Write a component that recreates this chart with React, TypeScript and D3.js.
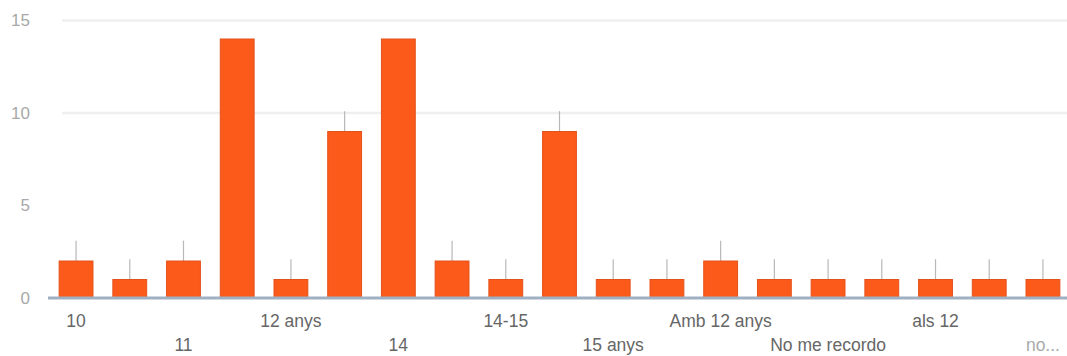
import React from "react";
import * as d3 from "d3";

const categories = [
  "10", "10 anys", "11", "12", "12 anys", "13", "14", "14 anys", "14-15", "15",
  "15 anys", "16", "Amb 12 anys", "Amb 13 anys", "No me recordo", "Sobre els 12",
  "als 12", "als 13", "no...",
];
const values = [2, 1, 2, 14, 1, 9, 14, 2, 1, 9, 1, 1, 2, 1, 1, 1, 1, 1, 1];
const errorUp = 1.1;
const yTicks = [0, 5, 10, 15];
const gridTicks = [10, 15];

const W = 1067;
const H = 356;

export default function App() {
  const x = d3
    .scaleBand<string>()
    .domain(categories)
    .range([49.2, 1069.8])
    .paddingInner(0.37)
    .paddingOuter(0.185);
  const y = d3.scaleLinear().domain([0, 15]).range([298, 20.5]);
  const bw = x.bandwidth();
  const yMax = y.domain()[1];

  return (
    <svg
      width={W}
      height={H}
      style={{ position: "absolute", left: 0, top: 0, display: "block" }}
      fontFamily="Arial, 'Liberation Sans', sans-serif"
    >
      <rect x={0} y={0} width={W} height={H} fill="#fff" />
      {gridTicks.map((t) => (
        <line key={"g" + t} x1={62} x2={W} y1={y(t)} y2={y(t)} stroke="#efefef" strokeWidth={2.5} />
      ))}
      {yTicks.map((t) => (
        <text key={"yt" + t} x={30} y={y(t)} dy="0.35em" textAnchor="end" fontSize={17} fill="#a8a8a8">
          {t}
        </text>
      ))}
      {categories.map((c, i) => (
        <g key={c}>
          {values[i] + errorUp <= yMax ? (
            <line
              x1={(x(c) as number) + bw / 2}
              x2={(x(c) as number) + bw / 2}
              y1={y(values[i])}
              y2={y(values[i] + errorUp)}
              stroke="#b8b8b8"
              strokeWidth={1.2}
            />
          ) : null}
          <rect
            x={x(c)}
            y={y(values[i])}
            width={bw}
            height={y(0) - y(values[i])}
            fill="#fc5a1a"
            stroke="#e4521c"
            strokeWidth={1}
          />
        </g>
      ))}
      <line x1={48} x2={W} y1={y(0)} y2={y(0)} stroke="#9fb0c2" strokeWidth={3} />
      {categories.map((c, i) =>
        i % 2 === 0 ? (
          <text
            key={"xl" + c}
            x={(x(c) as number) + bw / 2}
            y={(i / 2) % 2 === 0 ? 327 : 351}
            textAnchor="middle"
            fontSize={17.5}
            fill={i === categories.length - 1 ? "#aaaaaa" : "#666666"}
          >
            {c}
          </text>
        ) : null
      )}
    </svg>
  );
}
